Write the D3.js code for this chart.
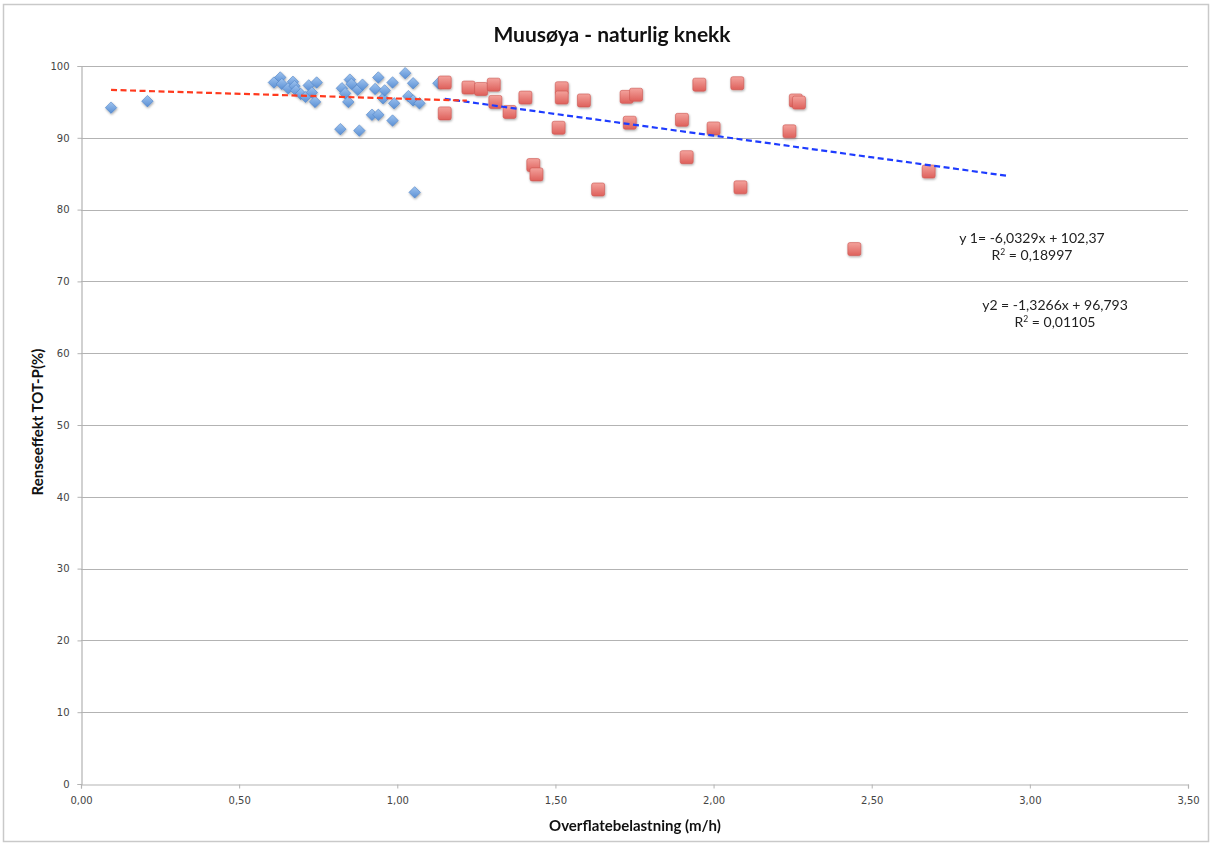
<!DOCTYPE html>
<html>
<head>
<meta charset="utf-8">
<script src="https://cdn.jsdelivr.net/npm/d3@7"></script>
<style>
  body { margin: 0; background: #fff; }
  svg { display: block; }
</style>
</head>
<body>
<svg id="chart" width="1212" height="846"></svg>
<script>
// Series 1 (blue diamonds): surface load (m/h) vs. TOT-P removal (%)
const seriesBlueX = [0.095, 0.21, 0.61, 0.63, 0.635, 0.655, 0.67, 0.675, 0.68, 0.695, 0.71, 0.72, 0.73, 0.745, 0.74,
  0.82, 0.825, 0.835, 0.845, 0.85, 0.855, 0.875, 0.88, 0.89, 0.92, 0.93, 0.94, 0.94, 0.955, 0.96,
  0.985, 0.985, 0.99, 1.025, 1.035, 1.05, 1.05, 1.055, 1.07, 1.13];
const seriesBlueY = [94.2, 95.1, 97.7, 98.4, 97.5, 96.9, 97.8, 97.2, 96.6, 96.1, 95.7, 97.3, 96.3, 97.7, 95.0,
  91.2, 96.9, 96.2, 95.0, 98.1, 97.5, 96.7, 91.0, 97.4, 93.2, 96.8, 98.4, 93.2, 95.5, 96.6,
  97.7, 92.4, 94.8, 99.0, 95.8, 97.6, 95.2, 82.4, 94.8, 97.6];

// Series 2 (red squares)
const seriesRedX = [1.15, 1.15, 1.225, 1.265, 1.305, 1.31, 1.355, 1.405, 1.43, 1.44, 1.51, 1.52, 1.52, 1.59, 1.635,
  1.725, 1.735, 1.755, 1.90, 1.915, 1.955, 2.00, 2.075, 2.085, 2.24, 2.26, 2.27, 2.445, 2.68];
const seriesRedY = [97.7, 93.4, 97.0, 96.8, 97.4, 95.0, 93.6, 95.6, 86.2, 84.9, 91.4, 96.9, 95.6, 95.2, 82.8,
  95.7, 92.1, 96.0, 92.5, 87.3, 97.4, 91.3, 97.6, 83.1, 90.9, 95.2, 94.9, 74.5, 85.3];

// Linear trend lines (slope, intercept, x-extent)
const trendSlopes = [-6.0329, -1.3266];
const trendIntercepts = [102.37, 96.793];
const trendR2 = ["0,18997", "0,01105"];
const trendFrom = [1.15, 0.095];
const trendTo = [2.93, 1.22];
const trendColors = ["#1e3cff", "#ff3a1e"];

const xTicks = [0, 0.5, 1, 1.5, 2, 2.5, 3, 3.5];
const yTicks = [0, 10, 20, 30, 40, 50, 60, 70, 80, 90, 100];

const title = "Muusøya - naturlig knekk";
const xLabel = "Overflatebelastning (m/h)";
const yLabel = "Renseeffekt TOT-P(%)";
const eqLabels = ["y 1= -6,0329x + 102,37", "y2 = -1,3266x + 96,793"];

const W = 1212, H = 846;
const plot = { left: 81, right: 1188, top: 66, bottom: 784 };

const svg = d3.select("#chart");

const defs = svg.append("defs");
const gBlue = defs.append("linearGradient").attr("id", "gBlue").attr("x1", 0).attr("y1", 0).attr("x2", 0).attr("y2", 1);
gBlue.append("stop").attr("offset", "0%").attr("stop-color", "#9ec3ef");
gBlue.append("stop").attr("offset", "100%").attr("stop-color", "#5a8fd4");
const gRed = defs.append("linearGradient").attr("id", "gRed").attr("x1", 0).attr("y1", 0).attr("x2", 0).attr("y2", 1);
gRed.append("stop").attr("offset", "0%").attr("stop-color", "#f3a29c");
gRed.append("stop").attr("offset", "100%").attr("stop-color", "#de605b");
const shadow = defs.append("filter").attr("id", "shadow").attr("x", "-50%").attr("y", "-50%").attr("width", "200%").attr("height", "200%");
shadow.append("feDropShadow").attr("dx", 0.6).attr("dy", 1.2).attr("stdDeviation", 0.9)
  .attr("flood-color", "#000").attr("flood-opacity", 0.35);

// Outer chart frame
svg.append("rect").attr("x", 3.5).attr("y", 4.5).attr("width", W - 7).attr("height", H - 9)
  .attr("fill", "#fff").attr("stroke", "#c9c9c9").attr("stroke-width", 1.5);

const x = d3.scaleLinear().domain([0, 3.5]).range([plot.left, plot.right]);
const y = d3.scaleLinear().domain([0, 100]).range([plot.bottom, plot.top]);
const fmtX = v => d3.format(".2f")(v).replace(".", ",");

// Horizontal gridlines
svg.append("g").selectAll("line").data(yTicks.filter(d => d > 0)).join("line")
  .attr("x1", plot.left).attr("x2", plot.right)
  .attr("y1", d => Math.round(y(d)) + 0.5).attr("y2", d => Math.round(y(d)) + 0.5)
  .attr("stroke", "#b3b3b3").attr("stroke-width", 1.2);

// Axes
const xAxis = svg.append("g").attr("transform", `translate(0,${Math.round(plot.bottom) + 0.5})`)
  .call(d3.axisBottom(x).tickValues(xTicks).tickFormat(fmtX).tickSize(4).tickPadding(8));
const yAxis = svg.append("g").attr("transform", `translate(${plot.left + 0.5},0)`)
  .call(d3.axisLeft(y).tickValues(yTicks).tickSize(4).tickPadding(8));
[xAxis, yAxis].forEach(a => {
  a.select(".domain").attr("stroke", "#b3b3b3").attr("stroke-width", 1.2);
  a.selectAll(".tick line").attr("stroke", "#b3b3b3");
  a.selectAll(".tick text").attr("fill", "#444").attr("font-family", "DejaVu Sans").attr("font-size", 10);
});

// Trend lines
const trends = trendSlopes.map((s, i) => ({
  pts: [[trendFrom[i], s * trendFrom[i] + trendIntercepts[i]], [trendTo[i], s * trendTo[i] + trendIntercepts[i]]],
  color: trendColors[i]
}));
const line = d3.line().x(d => x(d[0])).y(d => y(d[1]));

// Blue diamonds
const diamond = d3.symbol().type(d3.symbolDiamond2).size(84);
const blue = seriesBlueX.map((v, i) => [v, seriesBlueY[i]]);
svg.append("g").attr("filter", "url(#shadow)").selectAll("path").data(blue).join("path")
  .attr("d", diamond)
  .attr("transform", d => `translate(${x(d[0])},${y(d[1])})`)
  .attr("fill", "url(#gBlue)").attr("stroke", "#4f83c6").attr("stroke-width", 0.6);

// Red squares
const red = seriesRedX.map((v, i) => [v, seriesRedY[i]]);
const sq = 13;
svg.append("g").attr("filter", "url(#shadow)").selectAll("rect").data(red).join("rect")
  .attr("x", d => x(d[0]) - sq / 2).attr("y", d => y(d[1]) - sq / 2)
  .attr("width", sq).attr("height", sq).attr("rx", 2)
  .attr("fill", "url(#gRed)").attr("stroke", "#cc5550").attr("stroke-width", 0.6);

svg.append("g").selectAll("path").data(trends).join("path")
  .attr("d", d => line(d.pts)).attr("fill", "none")
  .attr("stroke", d => d.color).attr("stroke-width", 2.2).attr("stroke-dasharray", "6,3.5");

// Title and axis titles
svg.append("text").attr("x", 612).attr("y", 42).attr("text-anchor", "middle")
  .attr("font-family", "Lato").attr("font-weight", "bold").attr("font-size", 21).attr("fill", "#111").text(title);
svg.append("text").attr("x", 635).attr("y", 831).attr("text-anchor", "middle")
  .attr("font-family", "Lato").attr("font-weight", "bold").attr("font-size", 15).attr("fill", "#111").text(xLabel);
svg.append("text").attr("transform", "translate(43,422) rotate(-90)").attr("text-anchor", "middle")
  .attr("font-family", "Lato").attr("font-weight", "bold").attr("font-size", 15).attr("fill", "#111").text(yLabel);

// Trend equations
const eqPos = [[1032, 243], [1055, 310]];
eqLabels.forEach((t, i) => {
  const g = svg.append("g").attr("font-family", "Lato").attr("font-size", 14).attr("fill", "#222").attr("text-anchor", "middle");
  g.append("text").attr("x", eqPos[i][0]).attr("y", eqPos[i][1]).text(t);
  const r = g.append("text").attr("x", eqPos[i][0]).attr("y", eqPos[i][1] + 17);
  r.append("tspan").text("R");
  r.append("tspan").attr("font-size", 8.5).attr("dy", -5).text("2");
  r.append("tspan").attr("dy", 5).text(" = " + trendR2[i]);
});
</script>
</body>
</html>
